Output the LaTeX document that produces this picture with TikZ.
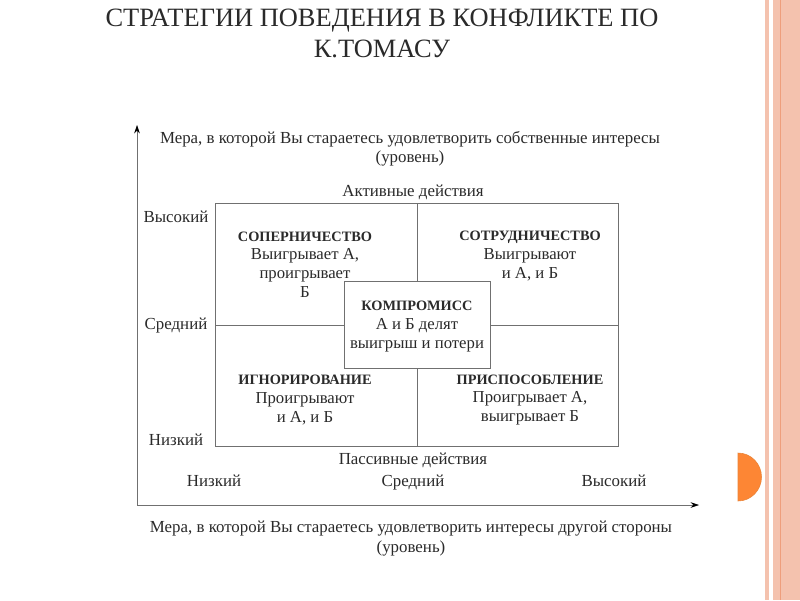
\documentclass[tikz,border=0pt]{standalone}
\usepackage{fontspec}
\setmainfont{Liberation Serif}
\usepackage{tikz}
\usetikzlibrary{arrows.meta}

\definecolor{stripe}{HTML}{F4C2AE}
\definecolor{stripeline}{HTML}{EE9E7C}
\definecolor{bullet}{HTML}{FD8634}
\definecolor{gridline}{HTML}{707070}
\definecolor{ink}{HTML}{2A2A2A}

% bold strategy names
\newcommand{\stratname}[1]{{\fontsize{10.2}{13.2}\selectfont\bfseries #1}}

\begin{document}
\begin{tikzpicture}[x=0.025cm, y=-0.025cm, >=Stealth,
		txt/.style={font=\fontsize{11.9}{13.2}\selectfont, text=ink, align=center, inner sep=0pt},
		axcap/.style={txt, font=\fontsize{12}{13.6}\selectfont},
		lbl/.style={axcap, text height=8.5pt, text depth=2.5pt}]
		
		% Fix the page size
		\useasboundingbox (0,0) rectangle (800,600);
		\fill[white] (0,0) rectangle (800,600);
		
		% Draw the decorative stripes on the right edge
		\fill[stripe] (765,0) rectangle (768.5,600);
		\fill[stripe] (773,0) rectangle (800,600);
		\draw[stripeline, line width=0.8pt] (780.5,0) -- (780.5,600);
		\fill[bullet, draw=bullet!70!brown] (738,501) arc (90:-90:23.5 and 24) -- cycle;
		
		% Add the title
		\node[font=\fontsize{18.8}{21.6}\selectfont, text=ink, align=center, inner sep=0pt] (title) at (382,33.5)
			{СТРАТЕГИИ ПОВЕДЕНИЯ В КОНФЛИКТЕ ПО\\К.ТОМАСУ};
		
		% Define the axes corners
		\coordinate (origin) at (137,505);
		\coordinate (ytip) at (137,125);
		\coordinate (xtip) at (699,505);
		
		% Draw both axes
		\draw[<->, gridline, thin, >={Stealth[length=6pt, width=4pt, black]}] (ytip) |- (xtip);
		
		% Axis captions
		\node[axcap] (ycap) at (410,148.5) {Мера, в которой Вы стараетесь удовлетворить собственные интересы\\(уровень)};
		\node[axcap] (xcap) at (411,538.5) {Мера, в которой Вы стараетесь удовлетворить интересы другой стороны\\(уровень)};
		
		% Draw the outer box and its dividers
		\coordinate (nw) at (215,203);
		\coordinate (se) at (618,446);
		\draw[gridline, thin] (nw) rectangle (se);
		\draw[gridline, thin] (417,203) -- (417,446);
		\draw[gridline, thin] (215,325) -- (618,325);
		
		% Level labels on the left
		\node[lbl] (yhigh) at (176,218) {Высокий};
		\node[lbl] (ymid) at (176,325) {Средний};
		\node[lbl] (ylow) at (176,441) {Низкий};
		
		% Level labels at the bottom
		\node[lbl] (xlow) at (214,482) {Низкий};
		\node[lbl] (xmid) at (413,482) {Средний};
		\node[lbl] (xhigh) at (614,482) {Высокий};
		
		% Captions above and below the box
		\node[lbl] (active) at (413,192) {Активные действия};
		\node[lbl] (passive) at (413,460) {Пассивные действия};
		
		% Strategy cells
		\node[txt] (rivalry) at (305,264.5) {\stratname{СОПЕРНИЧЕСТВО}\\Выигрывает А,\\проигрывает\\Б};
		\node[txt] (cooperation) at (530,256) {\stratname{СОТРУДНИЧЕСТВО}\\Выигрывают\\и А, и Б};
		\node[txt] (avoiding) at (305,400) {\stratname{ИГНОРИРОВАНИЕ}\\Проигрывают\\и А, и Б};
		\node[txt] (adapting) at (530,400) {\stratname{ПРИСПОСОБЛЕНИЕ}\\Проигрывает А,\\выигрывает Б};
		
		% Compromise box in the middle
		\node[draw=gridline, thin, fill=white, minimum width=3.65cm, minimum height=2.175cm] (compbox) at (417,324.5) {};
		\node[txt] (compromise) at (417,326.5) {\stratname{КОМПРОМИСС}\\А и Б делят\\выигрыш и потери};
		
	\end{tikzpicture}
\end{document}
